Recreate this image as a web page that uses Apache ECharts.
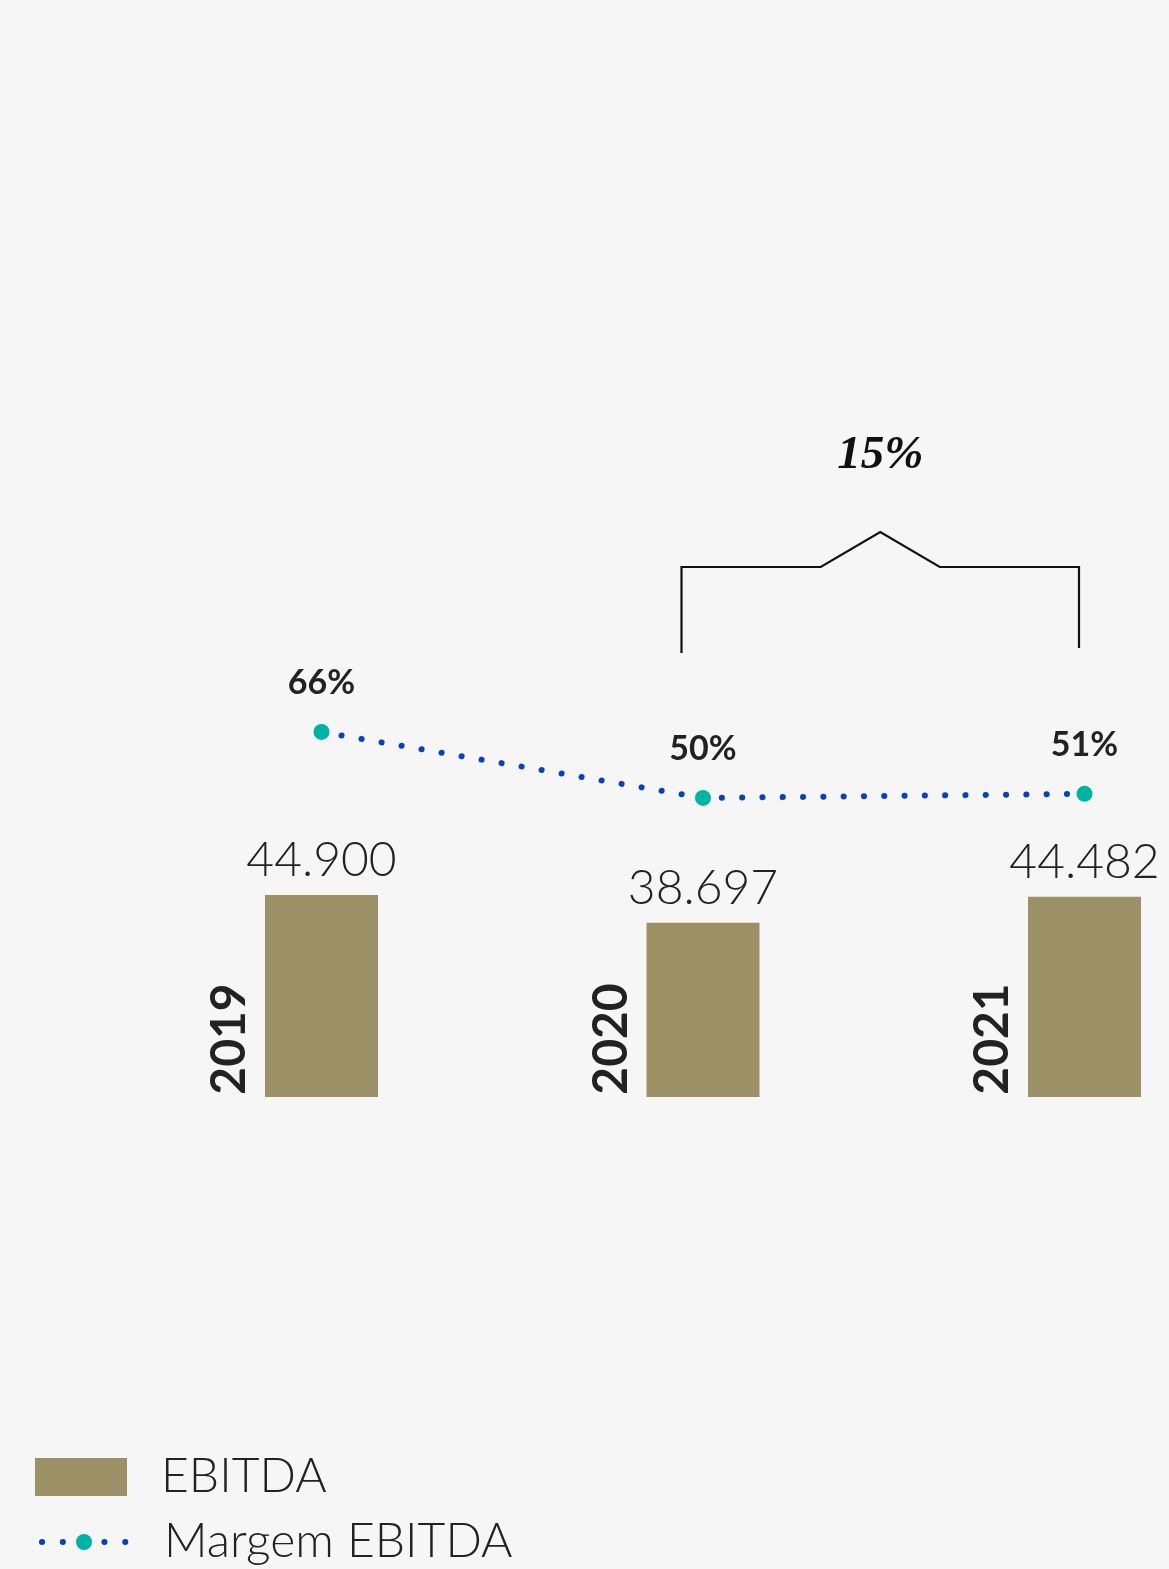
<!DOCTYPE html>
<html><head><meta charset="utf-8">
<script src="https://cdn.jsdelivr.net/npm/echarts@6/dist/echarts.min.js"></script>
<style>html,body{margin:0;padding:0;background:#f6f6f6}#c{width:1169px;height:1569px}</style>
</head><body><div id="c"></div>
<script>
const years = ['2019', '2020', '2021'];
const ebitda = [44900, 38697, 44482];
const margin = [66, 50, 51];
const ebitdaLabels = ['44.900', '38.697', '44.482'];
const growthLabel = ['15%'];
const seriesNames = ['EBITDA', 'Margem EBITDA'];

const chart = echarts.init(document.getElementById('c'), null, {renderer: 'canvas'});
const txt = '#222222';
const blue = '#0841bd';
const option = {
  backgroundColor: '#f6f6f6',
  animation: false,
  grid: {left: 321.5, right: 84.5, top: 197, bottom: 472},
  xAxis: {type: 'category', data: years, boundaryGap: false, show: false},
  yAxis: [
    {type: 'value', min: 0, max: 200000, show: false},
    {type: 'value', min: -22.5, max: 195.7, show: false}
  ],
  legend: [
    {data: [seriesNames[0]], left: 35, top: 1453, padding: 0, orient: 'vertical',
     itemWidth: 92, itemHeight: 38, icon: 'rect', selectedMode: false,
     textStyle: {fontFamily: 'Lato', fontWeight: 300, fontSize: 48, lineHeight: 48, color: txt, padding: [0, 0, 0, 29]}},
    {data: [seriesNames[1]], left: 35, top: 1518, padding: 0, orient: 'vertical',
     itemWidth: 92, itemHeight: 20, selectedMode: false,
     lineStyle: {color: blue, width: 6, type: [0.1, 20.7], cap: 'round', dashOffset: -4},
     textStyle: {fontFamily: 'Lato', fontWeight: 300, fontSize: 48, lineHeight: 48, color: txt, padding: [0, 0, 0, 29], letterSpacing: 1.5}}
  ],
  series: [
    {
      name: seriesNames[0], type: 'bar', data: ebitda, barWidth: 113, clip: false,
      itemStyle: {color: '#9c9066'},
      label: {show: true, position: 'top', distance: 10,
        formatter: p => ebitdaLabels[p.dataIndex],
        fontFamily: 'Lato', fontWeight: 300, fontSize: 48, color: txt}
    },
    {
      name: seriesNames[1], type: 'line', yAxisIndex: 1, data: margin, clip: false,
      symbol: 'circle', symbolSize: 16, z: 5,
      itemStyle: {color: '#00b4a4'},
      lineStyle: {color: blue, width: 6, type: [0.1, 20.2], cap: 'round'},
      label: {show: true, position: 'top', distance: 24, formatter: '{c}%',
        fontFamily: 'Lato', fontWeight: 'bold', fontSize: 34, color: txt}
    },
    {
      type: 'custom', coordinateSystem: 'cartesian2d', clip: false,
      data: years.map((y, i) => [i, 0]),
      renderItem: (params, api) => {
        const pt = api.coord([api.value(0), 0]);
        return {
          type: 'text', x: pt[0] - 91.5, y: pt[1] - 58, rotation: Math.PI / 2,
          style: {text: years[params.dataIndex], fontFamily: 'Lato', fontWeight: 'bold',
            fontSize: 48, fill: txt, align: 'center', verticalAlign: 'middle'}
        };
      }
    }
  ]
};
chart.setOption(option);

const p1 = chart.convertToPixel({xAxisIndex: 0}, 1);
const p2 = chart.convertToPixel({xAxisIndex: 0}, 2);
const lx = p1 - 21.5, rx = p2 - 5.5, cx = (lx + rx) / 2;
chart.setOption({
  graphic: [
    {type: 'polyline', z: 10,
     shape: {points: [[lx, 653], [lx, 567], [cx - 59.5, 567], [cx, 532], [cx + 59.5, 567], [rx, 567], [rx, 648]]},
     style: {stroke: '#111111', lineWidth: 2.2, fill: null}},
    {type: 'text', z: 10, x: cx, y: 456,
     style: {text: growthLabel[0], fontFamily: 'Liberation Serif', fontStyle: 'italic', fontWeight: 'bold',
       fontSize: 47, fill: '#111111', align: 'center', verticalAlign: 'middle'}}
  ]
});
</script></body></html>
